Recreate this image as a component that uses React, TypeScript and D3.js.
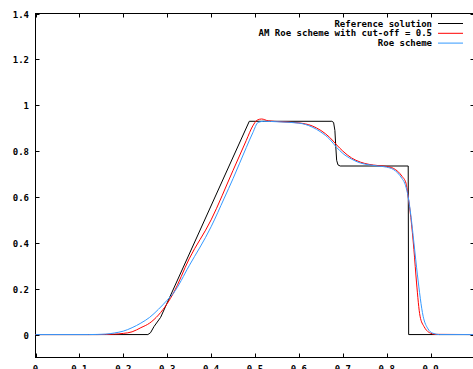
import React from "react";
import * as d3 from "d3";

const W = 473;
const H = 369;

const refX = [0, 0.256, 0.262, 0.27, 0.285, 0.487, 0.675, 0.679, 0.682, 0.684, 0.686, 0.689, 0.694, 0.849, 0.85, 1.0];
const refY = [0, 0, 0.008, 0.035, 0.075, 0.93, 0.93, 0.925, 0.89, 0.82, 0.76, 0.74, 0.735, 0.735, 0, 0];

const amX = [0, 0.14, 0.18, 0.2, 0.22, 0.24, 0.26, 0.28, 0.3, 0.314, 0.35, 0.4, 0.45, 0.48, 0.495, 0.505, 0.515, 0.53, 0.56, 0.6, 0.63, 0.65, 0.67, 0.686, 0.7, 0.72, 0.74, 0.76, 0.78, 0.8, 0.815, 0.825, 0.835, 0.844, 0.849, 0.855, 0.862, 0.868, 0.876, 0.885, 0.891, 0.9, 0.91, 1.0];
const amY = [0, 0, 0.002, 0.005, 0.012, 0.03, 0.05, 0.085, 0.135, 0.18, 0.33, 0.5, 0.716, 0.846, 0.91, 0.935, 0.94, 0.932, 0.928, 0.923, 0.91, 0.89, 0.86, 0.827, 0.8, 0.77, 0.752, 0.742, 0.737, 0.733, 0.725, 0.712, 0.69, 0.66, 0.6, 0.51, 0.37, 0.225, 0.08, 0.035, 0.018, 0.006, 0.001, 0];

const roeX = [0, 0.12, 0.16, 0.18, 0.2, 0.22, 0.24, 0.26, 0.28, 0.3, 0.314, 0.35, 0.4, 0.43, 0.45, 0.48, 0.495, 0.507, 0.52, 0.55, 0.6, 0.63, 0.65, 0.67, 0.686, 0.7, 0.72, 0.74, 0.76, 0.78, 0.8, 0.815, 0.825, 0.835, 0.841, 0.849, 0.855, 0.862, 0.87, 0.883, 0.894, 0.905, 0.92, 1.0];
const roeY = [0, 0, 0.002, 0.007, 0.015, 0.03, 0.05, 0.075, 0.11, 0.15, 0.18, 0.3, 0.47, 0.595, 0.68, 0.815, 0.88, 0.925, 0.93, 0.928, 0.922, 0.905, 0.883, 0.852, 0.816, 0.79, 0.765, 0.748, 0.74, 0.735, 0.73, 0.72, 0.705, 0.68, 0.66, 0.6, 0.52, 0.4, 0.26, 0.08, 0.025, 0.006, 0, 0];

const xTicks = [0, 0.1, 0.2, 0.3, 0.4, 0.5, 0.6, 0.7, 0.8, 0.9, 1];
const xLabels = ["0", "0.1", "0.2", "0.3", "0.4", "0.5", "0.6", "0.7", "0.8", "0.9", ""];
const yTicks = [0, 0.2, 0.4, 0.6, 0.8, 1, 1.2, 1.4];
const yLabels = ["0", "0.2", "0.4", "0.6", "0.8", "1", "1.2", "1.4"];
const seriesNames = ["Reference solution", "AM Roe scheme with cut-off = 0.5", "Roe scheme"];
const seriesColors = ["#000000", "#ff0000", "#3399ff"];

export default function App() {
  const x = d3.scaleLinear().domain([0, 1]).range([35.5, 474.5]);
  const y = d3.scaleLinear().domain([-0.1, 1.4]).range([357.5, 13.5]);

  const mk = (xs: number[], ys: number[], curve: any) =>
    d3
      .line<number>()
      .x((_, i) => x(xs[i]))
      .y((_, i) => y(ys[i]))
      .curve(curve)(xs.map((_, i) => i)) as string;

  const paths = [
    mk(refX, refY, d3.curveLinear),
    mk(amX, amY, d3.curveMonotoneX),
    mk(roeX, roeY, d3.curveMonotoneX),
  ];

  const font = "'DejaVu Sans Mono', monospace";
  const [x0, x1] = x.range();
  const [yb, yt] = y.range();

  return (
    <svg
      width={W}
      height={H}
      style={{ position: "absolute", left: 0, top: 0, background: "#fff" }}
      fontFamily={font}
      fontSize={9}
      fontWeight="bold"
    >
      <rect x={0} y={0} width={W} height={H} fill="#fff" />
      {yTicks.map((t, i) => (
        <g key={"y" + t}>
          <line x1={x0} x2={x0 + 4} y1={Math.round(y(t)) + 0.5} y2={Math.round(y(t)) + 0.5} stroke="#000" />
          <line x1={x1 - 4} x2={x1} y1={Math.round(y(t)) + 0.5} y2={Math.round(y(t)) + 0.5} stroke="#000" />
          <text x={29} y={Math.round(y(t)) + 3.5} textAnchor="end" fill="#000">
            {yLabels[i]}
          </text>
        </g>
      ))}
      {xTicks.map((t, i) => (
        <g key={"x" + t}>
          <line x1={Math.round(x(t)) + 0.5} x2={Math.round(x(t)) + 0.5} y1={yb} y2={yb - 4} stroke="#000" />
          <line x1={Math.round(x(t)) + 0.5} x2={Math.round(x(t)) + 0.5} y1={yt} y2={yt + 4} stroke="#000" />
          {xLabels[i] && (
            <text x={x(t)} y={372} textAnchor="middle" fill="#000">
              {xLabels[i]}
            </text>
          )}
        </g>
      ))}
      <rect x={x0} y={yt} width={x1 - x0} height={yb - yt} fill="none" stroke="#000" />
      {paths.map((d, i) => (
        <path key={i} d={d} fill="none" stroke={seriesColors[i]} strokeWidth={1} />
      ))}
      {seriesNames.map((n, i) => (
        <g key={n}>
          <text x={432} y={26.5 + i * 9.8} textAnchor="end" fill="#000">
            {n}
          </text>
          <line x1={438} x2={463} y1={23.5 + i * 9.8} y2={23.5 + i * 9.8} stroke={seriesColors[i]} />
        </g>
      ))}
    </svg>
  );
}
